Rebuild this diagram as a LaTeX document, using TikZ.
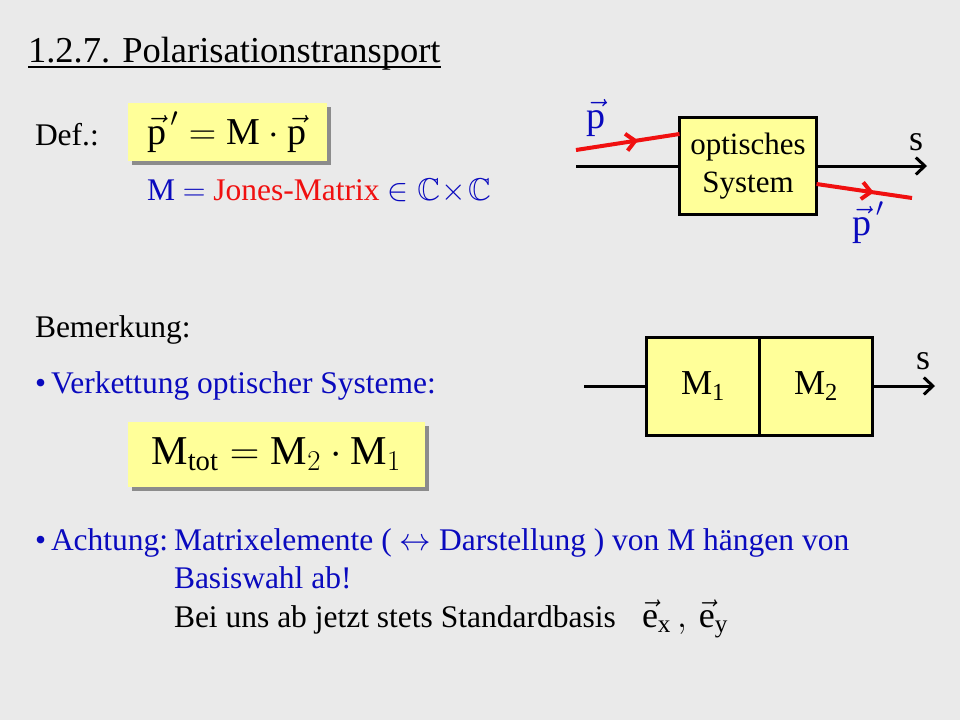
\RequirePackage{fix-cm}
\documentclass[tikz,border=0pt]{standalone}
\usepackage{amsmath}
\usepackage{amssymb}
\usepackage{fontspec}
\setmainfont{Liberation Serif}
\usetikzlibrary{positioning,arrows.meta,decorations.markings,shadows}

\definecolor{hintergrund}{HTML}{EAEAEA}
\definecolor{gelb}{HTML}{FFFF99}
\definecolor{tblue}{HTML}{0A0ABE}
\definecolor{tred}{HTML}{F01010}

\newcommand{\vp}{\vec{\textnormal{p}}}
\newcommand{\punkt}{\textbullet\kern5pt}

\begin{document}
\begin{tikzpicture}[x=1pt,y=-1pt,node distance=0pt,
	every node/.style={inner sep=0pt,outer sep=0pt},
	txt/.style={anchor=base west,font=\fontsize{31.5}{36}\selectfont},
	blau/.style={txt,text=tblue},
	folie/.style={fill=gelb,drop shadow={shadow xshift=4pt,shadow yshift=-4pt,fill=black!45,opacity=1}},
	block/.style={draw,line width=3pt,fill=gelb,align=center,font=\fontsize{31}{38}\selectfont},
	achse/.style={line width=3pt,-{Straight Barb[length=9pt,width=17pt]}},
	strahl/.style={draw=tred,line width=4pt,postaction={decorate},
		decoration={markings,mark=at position 0.6 with {\arrow{Straight Barb[length=9pt,width=17pt]}}}}]

	\fill[hintergrund] (0,0) rectangle (960,720);
	\useasboundingbox (0,0) rectangle (960,720);

	\node[txt,font=\fontsize{36.5}{40}\selectfont] (titel) at (28,62) {1.2.7. Polarisationstransport};
	\draw[line width=2pt] ([yshift=-5pt]titel.base west) -- ([yshift=-5pt]titel.base east);

	\node[txt] (def) at (35,145) {Def.:};
	\node[folie,minimum width=199pt,minimum height=58pt,font=\fontsize{38}{42}\selectfont] (pform) at (227,132) {$\vp^{\,\prime} = \textnormal{M}\cdot\vp$};
	\node[blau] (jones) at (147,200) {M $=$ \textcolor{tred}{Jones-Matrix} $\in\mathbb{C}\!\times\!\mathbb{C}$};

	\node[block,minimum width=137pt,minimum height=97pt] (sys) at (748,166) {optisches\\System};
	\coordinate (s0) at (576,166);
	\coordinate (s1) at (927,166);
	\coordinate (pa) at (576,150);
	\coordinate (pb) at (912,198);
	\node[txt,anchor=center,font=\fontsize{36}{40}\selectfont] (s) at (916,142) {s};
	\node[blau,anchor=base,font=\fontsize{38}{42}\selectfont] (p) at (596,128) {$\vp$};
	\node[blau,anchor=base,font=\fontsize{38}{42}\selectfont] (pstrich) at (868,235) {$\vp^{\,\prime}$};

	\draw[line width=3pt] (s0) -- (sys);
	\draw[achse] (sys) -- (s1);
	\draw[strahl] (pa) -- ([yshift=32pt]sys.west);
	\draw[strahl] ([yshift=-18pt]sys.east) -- (pb);

	\node[txt] (bem) at (35,337) {Bemerkung:};
	\node[blau] (kette) at (35,393) {\punkt Verkettung optischer Systeme:};
	\node[folie,minimum width=297pt,minimum height=65pt,font=\fontsize{41}{44}\selectfont] (mform) at (276,454) {$\textnormal{M}_{\text{tot}} = \textnormal{M}_2\cdot\textnormal{M}_1$};

	\node[block,minimum width=113pt,minimum height=98pt,font=\fontsize{35}{38}\selectfont] (m1) at (703,386) {M\textsubscript{1}};
	\node[block,minimum width=113pt,minimum height=98pt,font=\fontsize{35}{38}\selectfont,right=of m1] (m2) {M\textsubscript{2}};
	\coordinate (k0) at (584,386);
	\coordinate (k1) at (935,386);
	\node[txt,anchor=center,font=\fontsize{36}{40}\selectfont] (s2) at (923,361) {s};

	\draw[line width=3pt] (k0) -- (m1);
	\draw[achse] (m2) -- (k1);

	\node[blau] (acht) at (35,550) {\punkt Achtung:};
	\node[blau] (z1) at (174,550) {Matrixelemente ( $\leftrightarrow$ Darstellung ) von M hängen von};
	\node[blau] (z2) at (174,588) {Basiswahl ab!};
	\node[txt] (z3) at (174,627) {Bei uns ab jetzt stets Standardbasis};
	\node[txt,font=\fontsize{36}{40}\selectfont] (ebasis) at (642,627) {$\vec{\textnormal{e}}_{\text{x}}\,,\,\vec{\textnormal{e}}_{\text{y}}$};
\end{tikzpicture}
\end{document}
